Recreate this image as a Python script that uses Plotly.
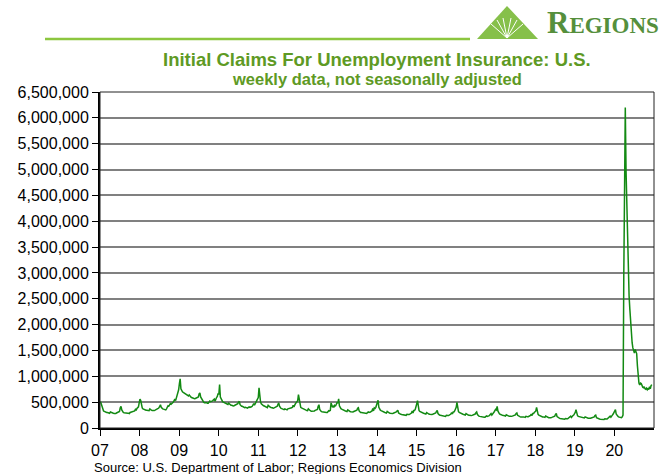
import pandas as pd
import plotly.graph_objects as go

# Weekly initial claims, not seasonally adjusted (thousands)
claims_2007 = [510, 460, 380, 350, 330, 320, 310, 305, 300, 300, 295, 290, 285, 310, 300, 290, 285, 285, 280, 275,
               280, 290, 300, 300, 310, 320, 390, 420, 350, 320, 300, 295, 290, 285, 280, 290, 285, 285, 280, 300,
               305, 300, 305, 310, 320, 330, 360, 340, 380, 390, 410, 490]
claims_2008 = [560, 530, 420, 390, 370, 360, 350, 350, 345, 345, 340, 340, 335, 370, 350, 345, 340, 335, 335, 340,
               345, 350, 360, 370, 380, 390, 440, 450, 400, 380, 370, 365, 360, 355, 350, 370, 410, 430, 420, 450,
               470, 460, 470, 480, 500, 530, 560, 530, 580, 600, 640, 740]
claims_2009 = [860, 950, 760, 720, 700, 690, 680, 670, 660, 650, 640, 630, 620, 640, 610, 600, 590, 580, 570, 560,
               565, 570, 575, 580, 590, 600, 660, 680, 600, 570, 540, 520, 500, 490, 490, 500, 490, 480, 480, 500,
               520, 510, 510, 520, 530, 540, 560, 520, 580, 590, 610, 670]
claims_2010 = [650, 840, 600, 560, 530, 510, 500, 490, 485, 480, 470, 460, 455, 480, 460, 450, 440, 440, 430, 425,
               430, 440, 450, 450, 460, 470, 500, 516, 450, 430, 420, 420, 410, 400, 395, 400, 390, 385, 385, 400,
               410, 400, 400, 410, 420, 440, 470, 440, 490, 500, 530, 580]
claims_2011 = [590, 776, 560, 500, 470, 450, 440, 430, 425, 420, 410, 400, 395, 440, 420, 410, 400, 395, 390, 380,
               385, 390, 400, 405, 410, 420, 460, 485, 420, 390, 380, 375, 370, 360, 355, 370, 360, 355, 350, 370,
               375, 365, 370, 380, 390, 400, 440, 410, 460, 470, 490, 516, 530]
claims_2012 = [645, 560, 430, 400, 390, 380, 370, 360, 355, 350, 345, 340, 335, 370, 350, 340, 330, 325, 325, 320,
               325, 330, 340, 345, 350, 360, 420, 450, 360, 330, 320, 315, 310, 305, 300, 310, 305, 300, 300, 330,
               335, 330, 340, 485, 420, 400, 420, 400, 440, 430, 460, 500]
claims_2013 = [480, 562, 430, 390, 375, 365, 355, 345, 340, 335, 330, 325, 320, 350, 335, 325, 320, 315, 310, 305,
               310, 320, 325, 330, 335, 345, 380, 390, 330, 310, 300, 300, 295, 290, 285, 290, 285, 280, 280, 300,
               310, 300, 300, 310, 320, 330, 380, 330, 390, 380, 400, 440]
claims_2014 = [470, 536, 400, 360, 345, 335, 325, 320, 315, 310, 300, 295, 290, 320, 305, 295, 290, 285, 280, 275,
               280, 285, 290, 295, 300, 310, 330, 345, 290, 275, 265, 265, 260, 255, 250, 255, 250, 245, 245, 265,
               270, 260, 260, 270, 280, 290, 330, 290, 340, 340, 360, 400]
claims_2015 = [470, 530, 380, 340, 320, 310, 300, 295, 290, 285, 280, 275, 270, 300, 285, 275, 270, 265, 260, 255,
               260, 265, 270, 275, 280, 290, 320, 340, 280, 260, 250, 245, 240, 235, 230, 235, 230, 225, 225, 245,
               250, 240, 240, 250, 260, 270, 300, 270, 310, 310, 330, 360]
claims_2016 = [400, 497, 360, 320, 300, 290, 280, 275, 270, 265, 260, 255, 250, 280, 265, 255, 250, 245, 240, 235,
               240, 245, 250, 255, 260, 270, 295, 310, 260, 240, 230, 225, 220, 215, 215, 220, 215, 210, 210, 225,
               235, 225, 225, 235, 245, 255, 280, 250, 290, 290, 310, 325, 360]
claims_2017 = [350, 420, 330, 290, 275, 265, 255, 250, 245, 240, 240, 235, 230, 255, 245, 235, 230, 225, 225, 220,
               225, 230, 235, 240, 245, 255, 280, 290, 245, 230, 225, 220, 215, 210, 210, 215, 215, 210, 205, 225,
               230, 220, 220, 225, 235, 245, 270, 240, 280, 280, 300, 325]
claims_2018 = [330, 400, 300, 265, 250, 240, 230, 225, 220, 215, 215, 210, 205, 230, 220, 210, 205, 200, 200, 195,
               200, 205, 210, 215, 220, 230, 265, 280, 220, 205, 195, 190, 185, 180, 175, 180, 175, 175, 170, 185,
               190, 180, 180, 190, 200, 210, 230, 205, 240, 240, 250, 270]
claims_2019 = [300, 355, 270, 240, 225, 220, 215, 210, 205, 200, 200, 195, 195, 215, 205, 200, 195, 190, 190, 185,
               190, 195, 200, 205, 210, 215, 240, 250, 200, 190, 180, 175, 175, 170, 170, 175, 170, 170, 165, 180,
               185, 175, 175, 185, 195, 205, 230, 210, 250, 250, 270, 300]
claims_2020 = [300, 355, 270, 240, 230, 215, 210, 205, 205, 200, 215, 250, 2920, 6010, 6200, 4970, 4270, 3490, 2850,
               2560, 2300, 2050, 1800, 1650, 1550, 1480, 1450, 1520, 1460, 1440, 1200, 900, 870, 830, 870, 860, 800,
               790, 780, 800, 760, 750, 770, 740, 760, 745, 800, 760, 820, 840]

year_series = {
    2007: claims_2007, 2008: claims_2008, 2009: claims_2009, 2010: claims_2010,
    2011: claims_2011, 2012: claims_2012, 2013: claims_2013, 2014: claims_2014,
    2015: claims_2015, 2016: claims_2016, 2017: claims_2017, 2018: claims_2018,
    2019: claims_2019, 2020: claims_2020,
}
last_week = "2020-12-12"

tick_years = list(range(2007, 2021))
tick_labels = ["07", "08", "09", "10", "11", "12", "13", "14", "15", "16", "17", "18", "19", "20"]

dates, values = [], []
for yr, vals in year_series.items():
    end = last_week if yr == 2020 else f"{yr}-12-31"
    wk = pd.date_range(f"{yr}-01-01", end, freq="W-SAT")
    for d, v in zip(wk, vals):
        dates.append(d)
        values.append(v * 1000)

GREEN_LINE = "#138a13"
TITLE_GREEN = "#5e9a24"
FONT = "Arial, Liberation Sans, sans-serif"

fig = go.Figure()
fig.add_trace(go.Scatter(x=dates, y=values, mode="lines",
                         line=dict(color=GREEN_LINE, width=1.5),
                         hoverinfo="skip", showlegend=False))

W, H = 665, 474
L, R, T, B = 100, 11, 92, 46
pw, ph = W - L - R, H - T - B


def px(xp):
    return (xp - L) / pw


def py(yp):
    return (H - B - yp) / ph


fig.update_layout(
    width=W, height=H,
    margin=dict(l=L, r=R, t=T, b=B, pad=0, autoexpand=False),
    paper_bgcolor="white", plot_bgcolor="white",
    font=dict(family=FONT, color="black", size=15),
    xaxis=dict(
        type="date",
        range=["2007-01-01", "2021-01-01"],
        tickvals=[f"{y}-01-01" for y in tick_years],
        ticktext=tick_labels,
        ticks="outside", ticklen=6, tickcolor="black", tickwidth=1,
        showgrid=False, showline=True, linecolor="black", linewidth=1.5,
        zeroline=False, ticklabelstandoff=1, automargin=False,
        tickfont=dict(size=16, family=FONT, color="black"),
    ),
    yaxis=dict(
        range=[0, 6500000], dtick=500000, tick0=0, tickformat=",",
        ticks="outside", ticklen=6, tickcolor="black", tickwidth=1,
        showgrid=True, gridcolor="#808080", gridwidth=1.5,
        showline=True, linecolor="black", linewidth=2,
        zeroline=False, automargin=False,
        tickfont=dict(size=16, family=FONT, color="black"),
    ),
)

shapes = [
    # plot frame
    dict(type="rect", xref="paper", yref="paper", x0=0, x1=1, y0=0, y1=1,
         line=dict(color="#222222", width=1), fillcolor="rgba(0,0,0,0)", layer="above"),
    # header rule
    dict(type="line", xref="paper", yref="paper", x0=px(45), x1=px(470), y0=py(39), y1=py(39),
         line=dict(color="#8cc63f", width=2.5)),
    # logo triangle
    dict(type="path", xref="paper", yref="paper",
         path=f"M {px(477)},{py(39)} L {px(507)},{py(6)} L {px(538)},{py(39)} Z",
         fillcolor="#86c04a", line=dict(width=0)),
]
for tx, ty in [(491, 24), (497, 20), (503, 18), (511, 18), (517, 20), (523, 24)]:
    shapes.append(dict(type="line", xref="paper", yref="paper",
                       x0=px(507), y0=py(38), x1=px(tx), y1=py(ty),
                       line=dict(color="white", width=1)))
fig.update_layout(shapes=shapes)

annotations = [
    dict(text="<b>Initial Claims For Unemployment Insurance: U.S.</b>",
         x=0.5, y=py(60), xref="paper", yref="paper", xanchor="center", yanchor="middle",
         showarrow=False, font=dict(family=FONT, size=18.5, color=TITLE_GREEN)),
    dict(text="<b>weekly data, not seasonally adjusted</b>",
         x=0.5, y=py(79), xref="paper", yref="paper", xanchor="center", yanchor="middle",
         showarrow=False, font=dict(family=FONT, size=16.5, color=TITLE_GREEN)),
    dict(text="Source: U.S. Department of Labor; Regions Economics Division",
         x=px(92), y=py(467), xref="paper", yref="paper", xanchor="left", yanchor="middle",
         showarrow=False, font=dict(family=FONT, size=13, color="black")),
    dict(text="<b><span style='font-size:31px'>R</span>EGIONS</b>",
         x=px(545), y=py(42), xref="paper", yref="paper", xanchor="left", yanchor="bottom",
         showarrow=False, font=dict(family="Liberation Serif, DejaVu Serif, serif", size=23, color="#558f3c")),
]
fig.update_layout(annotations=annotations)

fig.write_html("out.html")
